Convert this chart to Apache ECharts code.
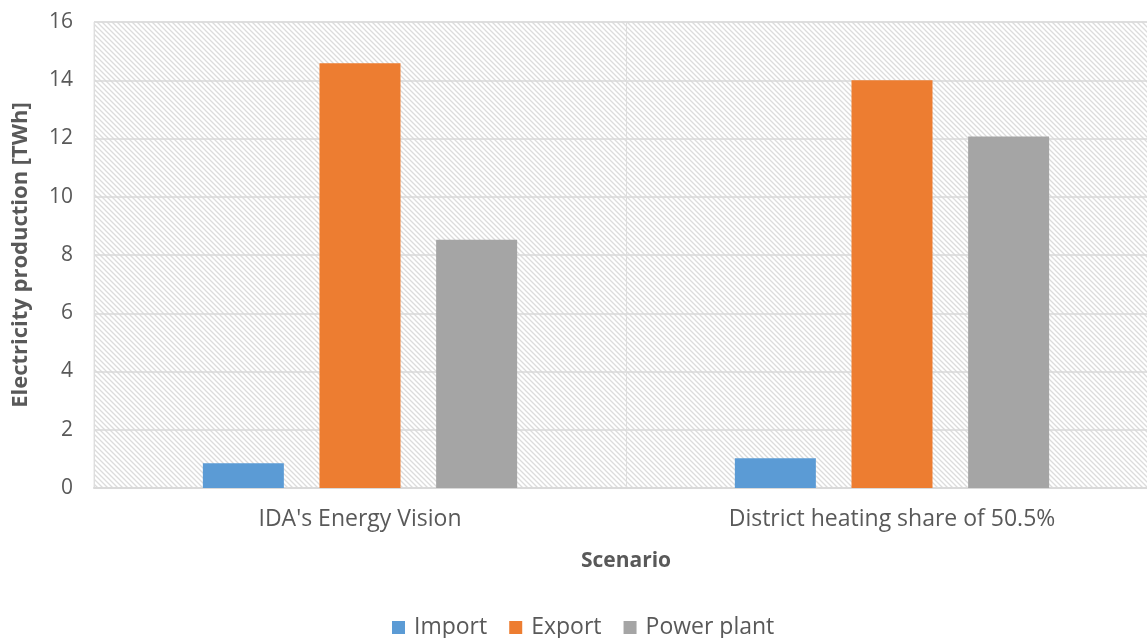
<!DOCTYPE html>
<html><head><meta charset="utf-8">
<script src="https://cdn.jsdelivr.net/npm/echarts@6/dist/echarts.min.js"></script>
<style>html,body{margin:0;padding:0;background:#fff}#c{width:1147px;height:638px}</style>
</head><body><div id="c"></div>
<script>
const categories = ["IDA's Energy Vision", "District heating share of 50.5%"];
const importVals = [0.85, 1.02];
const exportVals = [14.58, 14.0];
const powerVals = [8.52, 12.07];
const seriesNames = ["Import", "Export", "Power plant"];

// hatch pattern
const p = 5;
const cv = document.createElement('canvas');
cv.width = p; cv.height = p;
const ctx = cv.getContext('2d');
ctx.fillStyle = '#ffffff'; ctx.fillRect(0,0,p,p);
ctx.strokeStyle = '#dcdcdc'; ctx.lineWidth = 1.3;
ctx.beginPath();
ctx.moveTo(-1,-1); ctx.lineTo(p+1,p+1);
ctx.moveTo(-1,p-1); ctx.lineTo(1,p+1);
ctx.moveTo(p-1,-1); ctx.lineTo(p+1,1);
ctx.stroke();

const font = "'Open Sans', sans-serif";
const chart = echarts.init(document.getElementById('c'), null, {renderer:'canvas'});
chart.setOption({
  animation: false,
  textStyle: {fontFamily: font},
  grid: {left: 94, width: 1064, top: 22, height: 466, show: true, outerBoundsMode: 'none', containLabel: false,
    backgroundColor: {image: cv, repeat: 'repeat'}, borderColor: '#e3e3e3', borderWidth: 1},
  legend: {top: 611, left: 387, itemWidth: 13, itemHeight: 13, itemGap: 22,
    icon: 'rect', textStyle: {fontSize: 23, color: '#595959', fontFamily: font, padding: [0, 0, 0, 4]},
    data: seriesNames},
  xAxis: {type: 'category', data: categories,
    name: 'Scenario', nameLocation: 'middle', nameGap: 63,
    nameTextStyle: {fontSize: 21, fontWeight: 'bold', color: '#595959', fontFamily: font},
    axisLine: {lineStyle: {color: '#d9d9d9', width: 2}},
    axisTick: {show: false},
    axisLabel: {fontSize: 23, color: '#595959', margin: 20, fontFamily: font},
    splitLine: {show: true, lineStyle: {color: '#dedede', width: 1}}},
  yAxis: {type: 'value', min: 0, max: 16, interval: 2,
    name: 'Electricity production [TWh]', nameLocation: 'middle', nameGap: 62, nameRotate: 90,
    nameTextStyle: {fontSize: 22, fontWeight: 'bold', color: '#595959', fontFamily: font},
    axisLine: {show: false}, axisTick: {show: false},
    axisLabel: {fontSize: 21, color: '#595959', margin: 21, fontFamily: font},
    splitLine: {lineStyle: {color: '#d9d9d9', width: 1.5}}},
  series: [
    {name: seriesNames[0], type: 'bar', data: importVals, barWidth: 81, barGap: '44%', itemStyle: {color: '#5b9bd5'}},
    {name: seriesNames[1], type: 'bar', data: exportVals, barWidth: 81, barGap: '44%', itemStyle: {color: '#ed7d31'}},
    {name: seriesNames[2], type: 'bar', data: powerVals, barWidth: 81, barGap: '44%', itemStyle: {color: '#a5a5a5'}}
  ]
});
</script></body></html>
